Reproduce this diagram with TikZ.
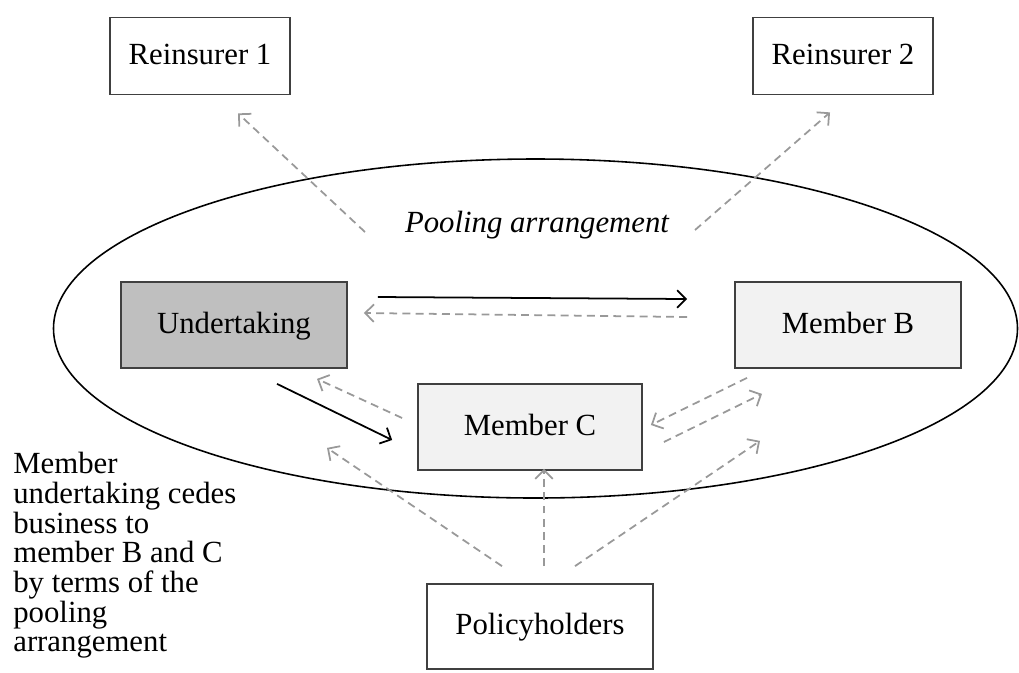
\documentclass[tikz,border=0pt]{standalone}
\usepackage{fontspec}
\setmainfont{Liberation Serif}
\usetikzlibrary{arrows.meta,shapes.geometric}

\begin{document}
\begin{tikzpicture}[
	font=\fontsize{17.5}{21}\selectfont,
	Box/.style={draw=black!75, line width=1pt, minimum width=4.52cm, minimum height=1.72cm, inner sep=0pt, text height=2.5ex, text depth=0.5ex},
	Reins/.style={Box, fill=white, minimum width=3.6cm, minimum height=1.54cm},
	Member/.style={Box, fill=black!5},
	Cede/.style={draw=black, line width=1pt, -{Straight Barb[length=5pt,width=10pt]}},
	Flow/.style={draw=black!40, line width=1pt, dash pattern=on 4.5pt off 3pt, -{Straight Barb[length=5pt,width=10pt]}}
		]
	\useasboundingbox (0,0) rectangle (20.38,-13.44);

	\node[draw=black, line width=0.9pt, ellipse, minimum width=19.28cm, minimum height=6.78cm] (pool) at (10.71,-6.57) {};
	\node (poollabel) at (10.74,-4.5) {\itshape Pooling arrangement};

	\node[Reins] (re1) at (4.0,-1.12) {Reinsurer 1};
	\node[Reins] (re2) at (16.86,-1.12) {Reinsurer 2};
	\node[Box, fill=black!25] (und) at (4.68,-6.5) {Undertaking};
	\node[Member] (memb) at (16.96,-6.5) {Member B};
	\node[Member, minimum width=4.48cm] (memc) at (10.6,-8.54) {Member C};
	\node[Box, fill=white, minimum height=1.7cm] (pol) at (10.8,-12.53) {Policyholders};

	\node[anchor=north west, inner sep=0pt, align=left, font=\fontsize{17.5}{16.9}\selectfont] (note) at (0.26,-9.04)
		{Member\\undertaking cedes\\business to\\member B and C\\by terms of the\\pooling\\arrangement};

	\coordinate (out1) at (7.3,-4.64);
	\coordinate (out2) at (13.9,-4.6);
	\draw[Flow] (out1) -- ([shift={(0.76,-0.36)}]re1.south);
	\draw[Flow] (out2) -- ([shift={(-0.26,-0.34)}]re2.south);

	\draw[Cede] ([shift={(0.6,0.56)}]und.east) -- ([shift={(-0.94,0.52)}]memb.west);
	\draw[Flow] ([shift={(-0.94,0.16)}]memb.west) -- ([shift={(0.32,0.24)}]und.east);
	\draw[Cede] ([shift={(0.86,-0.3)}]und.south) -- ([shift={(-0.5,-0.26)}]memc.west);
	\draw[Flow] ([shift={(-0.3,0.18)}]memc.west) -- ([shift={(1.66,-0.2)}]und.south);
	\draw[Flow] ([shift={(-2.02,-0.18)}]memb.south) -- ([shift={(0.16,0.04)}]memc.east);
	\draw[Flow] ([shift={(0.42,-0.3)}]memc.east) -- ([shift={(-1.72,-0.5)}]memb.south);

	\draw[Flow] ([shift={(-0.76,0.34)}]pol.north) -- ([shift={(1.86,-1.58)}]und.south);
	\draw[Flow] ([shift={(0.08,0.34)}]pol.north) -- ([shift={(0.28,0.04)}]memc.south);
	\draw[Flow] ([shift={(0.7,0.34)}]pol.north) -- ([shift={(-1.76,-1.44)}]memb.south);
\end{tikzpicture}
\end{document}
